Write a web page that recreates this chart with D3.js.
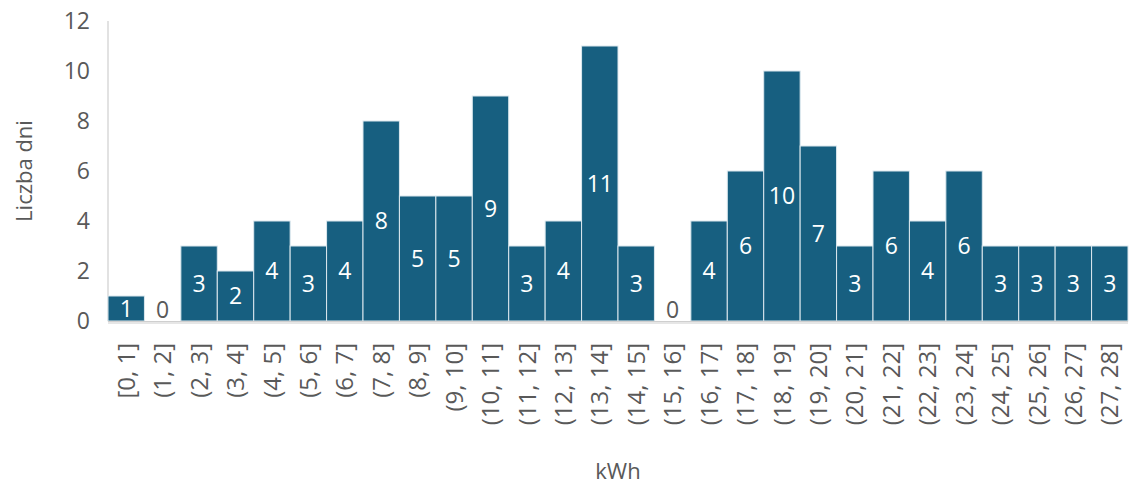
<!DOCTYPE html>
<html>
<head>
<meta charset="utf-8">
<script src="https://cdn.jsdelivr.net/npm/d3@7"></script>
<style>
  html, body { margin: 0; padding: 0; background: #fff; }
  svg { display: block; font-family: "Open Sans", sans-serif; }
</style>
</head>
<body>
<svg id="chart" width="1132" height="485"></svg>
<script>
// Histogram of daily energy use: number of days per 1 kWh bin
const bins = ["[0, 1]", "(1, 2]", "(2, 3]", "(3, 4]", "(4, 5]", "(5, 6]", "(6, 7]", "(7, 8]",
  "(8, 9]", "(9, 10]", "(10, 11]", "(11, 12]", "(12, 13]", "(13, 14]", "(14, 15]", "(15, 16]",
  "(16, 17]", "(17, 18]", "(18, 19]", "(19, 20]", "(20, 21]", "(21, 22]", "(22, 23]", "(23, 24]",
  "(24, 25]", "(25, 26]", "(26, 27]", "(27, 28]"];
const counts = [1, 0, 3, 2, 4, 3, 4, 8, 5, 5, 9, 3, 4, 11, 3, 0, 4, 6, 10, 7, 3, 6, 4, 6, 3, 3, 3, 3];
const yTicks = [0, 2, 4, 6, 8, 10, 12];
const xTitle = "kWh";
const yTitle = "Liczba dni";

const svg = d3.select("#chart");
const m = { left: 108, right: 1128, top: 21, bottom: 321 };
const barColor = "#175f80";
const textColor = "#595959";

const x = d3.scaleBand().domain(bins).range([m.left, m.right]).padding(0);
const y = d3.scaleLinear().domain([0, 12]).range([m.bottom, m.top]);

// y axis: line + tick labels
svg.append("line")
  .attr("x1", m.left).attr("x2", m.left)
  .attr("y1", m.top).attr("y2", m.bottom)
  .attr("stroke", "#d9d9d9").attr("stroke-width", 1.5);

svg.append("g").selectAll("text").data(yTicks).join("text")
  .attr("x", 90).attr("y", d => y(d))
  .attr("dy", "0.36em")
  .attr("text-anchor", "end")
  .attr("fill", textColor)
  .attr("font-size", 23)
  .text(d => d);

// bars
const data = bins.map((b, i) => ({ bin: b, value: counts[i] }));
svg.append("g").selectAll("rect").data(data.filter(d => d.value > 0)).join("rect")
  .attr("x", d => x(d.bin))
  .attr("y", d => y(d.value))
  .attr("width", x.bandwidth())
  .attr("height", d => y(0) - y(d.value))
  .attr("fill", barColor)
  .attr("stroke", "#dce8ee")
  .attr("stroke-width", 1);

// x axis baseline with soft shadow
svg.append("line")
  .attr("x1", m.left).attr("x2", m.right)
  .attr("y1", m.bottom + 2).attr("y2", m.bottom + 2)
  .attr("stroke", "#e6e6e6").attr("stroke-width", 2);
svg.append("line")
  .attr("x1", m.left).attr("x2", m.right)
  .attr("y1", m.bottom + 0.5).attr("y2", m.bottom + 0.5)
  .attr("stroke", "#cfcfcf").attr("stroke-width", 1);

// value labels
svg.append("g").selectAll("text").data(data).join("text")
  .attr("x", d => x(d.bin) + x.bandwidth() / 2)
  .attr("y", d => d.value > 0 ? (y(d.value) + y(0)) / 2 : y(0) - 11)
  .attr("dy", "0.36em")
  .attr("text-anchor", "middle")
  .attr("fill", d => d.value > 0 ? "#ffffff" : textColor)
  .attr("font-size", 23)
  .text(d => d.value);

// x tick labels, rotated
svg.append("g").selectAll("text").data(bins).join("text")
  .attr("transform", d => `translate(${x(d) + x.bandwidth() / 2},343) rotate(-90)`)
  .attr("dy", "0.36em")
  .attr("text-anchor", "end")
  .attr("fill", textColor)
  .attr("font-size", 24)
  .text(d => d);

// axis titles
svg.append("text")
  .attr("x", (m.left + m.right) / 2).attr("y", 479)
  .attr("text-anchor", "middle")
  .attr("fill", textColor)
  .attr("font-size", 22)
  .text(xTitle);

svg.append("text")
  .attr("transform", `translate(32,${(m.top + m.bottom) / 2}) rotate(-90)`)
  .attr("text-anchor", "middle")
  .attr("fill", textColor)
  .attr("font-size", 22)
  .text(yTitle);
</script>
</body>
</html>
